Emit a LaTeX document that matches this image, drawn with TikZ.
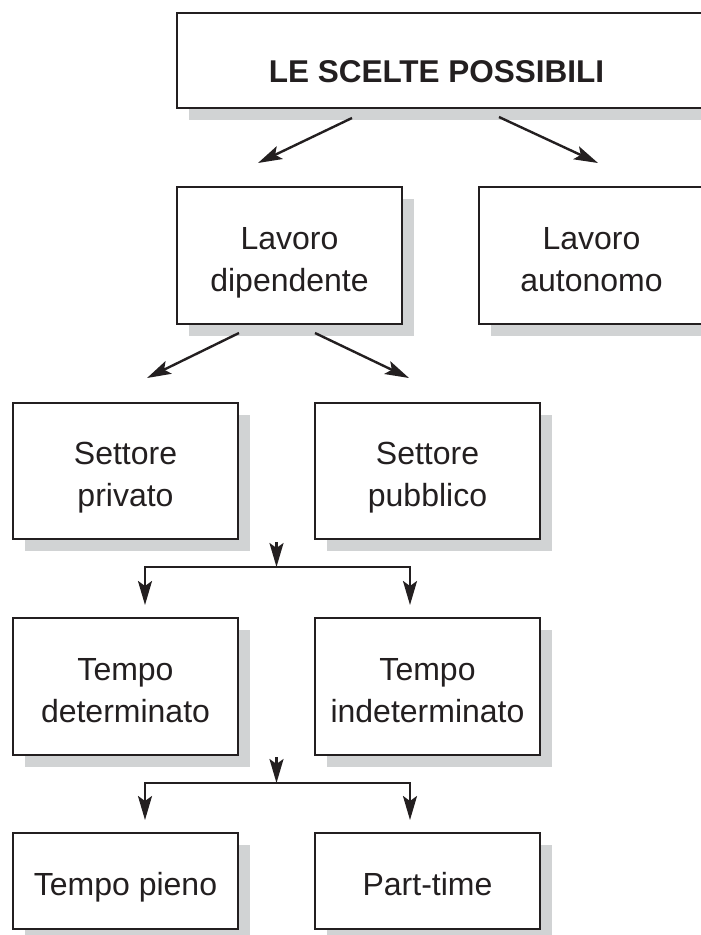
\documentclass[tikz,border=0pt]{standalone}
\usepackage{fontspec}
\setmainfont{Liberation Sans}
\usetikzlibrary{positioning,shadows,calc,arrows.meta}

\definecolor{inchiostro}{HTML}{231F20}
\definecolor{ombra}{HTML}{D1D3D4}

% spinge il testo un po' sotto il centro della scatola
\newcommand{\spinta}{\rule{0pt}{36pt}}
\newcommand{\fondo}{\rule[-7pt]{0pt}{7pt}}

\tikzset{
	scatola/.style={draw=inchiostro, line width=2.9pt, fill=white, text=inchiostro,
		minimum width=225pt, minimum height=137pt, inner sep=0pt, outer sep=0pt,
		align=center, font=\fontsize{32}{42}\selectfont,
		drop shadow={shadow xshift=12pt, shadow yshift=-12pt, fill=ombra, opacity=1}},
	freccia/.style={draw=inchiostro, line width=2.4pt,
		-{Stealth[length=24pt, width=14pt, inset=5pt]}},
}

\begin{document}
\begin{tikzpicture}[x=1pt, y=-1pt]
	\useasboundingbox (0,0) rectangle (701,935);
	\clip (0,0) rectangle (701,935);

	\node[scatola, minimum width=530pt, minimum height=95pt, anchor=north west,
		font=\bfseries\fontsize{31.5}{38}\selectfont] (titolo) at (177,13)
		{\rule{0pt}{45pt}\hspace*{-11pt}LE SCELTE POSSIBILI};

	\node[scatola, below=79pt of titolo.south west, anchor=north west] (dipendente) {\spinta Lavoro\\dipendente\fondo};
	\node[scatola, right=77pt of dipendente] (autonomo) {\spinta Lavoro\\autonomo\fondo};

	\node[scatola, minimum height=136pt, anchor=north west] (privato) at (13,403) {\spinta Settore\\privato\fondo};
	\node[scatola, minimum height=136pt, right=77pt of privato] (pubblico) {\spinta Settore\\pubblico\fondo};

	\node[scatola, below=79pt of privato] (determinato) {\spinta Tempo\\determinato\fondo};
	\node[scatola, right=77pt of determinato] (indeterminato) {\spinta Tempo\\indeterminato\fondo};

	\node[scatola, minimum height=96pt, below=78pt of determinato] (pieno) {\spinta Tempo pieno\fondo};
	\node[scatola, minimum height=96pt, right=77pt of pieno] (parttime) {\spinta Part-time\fondo};

	% frecce oblique
	\draw[freccia] ($(titolo.south)+(-90,10)$) -- ($(dipendente.north)+(-31.5,-24)$);
	\draw[freccia] ($(titolo.south)+(57,9)$) -- ($(autonomo.north)+(6.5,-24)$);
	\draw[freccia] ($(dipendente.south)+(-50.5,9)$) -- ($(privato.north)+(21.5,-25)$);
	\draw[freccia] ($(dipendente.south)+(25.5,9)$) -- ($(pubblico.north)+(-18.5,-25)$);

	% biforcazioni
	\coordinate (bivio1) at ($(privato.south east)!0.5!(pubblico.south west)$);
	\coordinate (nodo1) at ($(bivio1)+(0,28)$);
	\draw[freccia] ($(bivio1)+(0,3)$) -- (nodo1);
	\draw[freccia] (nodo1) -| ($(determinato.north)+(19.5,-13)$);
	\draw[freccia] (nodo1) -| ($(indeterminato.north)+(-17.5,-13)$);

	\coordinate (bivio2) at ($(determinato.south east)!0.5!(indeterminato.south west)$);
	\coordinate (nodo2) at ($(bivio2)+(0,28)$);
	\draw[freccia] ($(bivio2)+(0,2)$) -- (nodo2);
	\draw[freccia] (nodo2) -| ($(pieno.north)+(19.5,-13)$);
	\draw[freccia] (nodo2) -| ($(parttime.north)+(-17.5,-13)$);
\end{tikzpicture}
\end{document}
